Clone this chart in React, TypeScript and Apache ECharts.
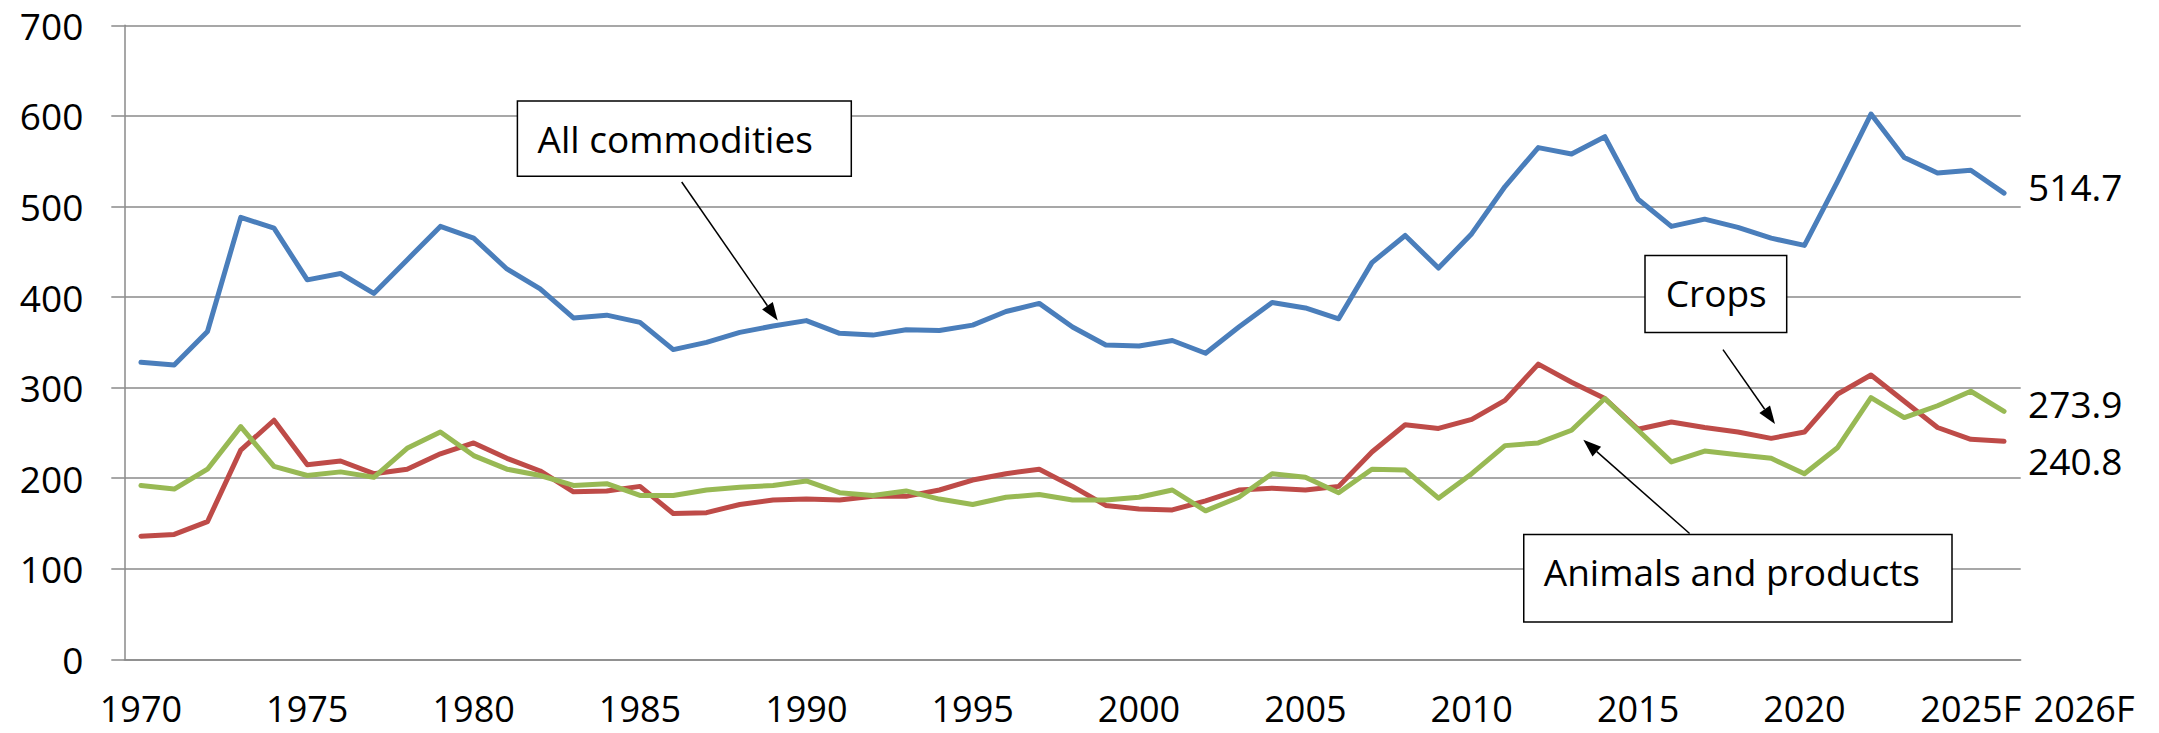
import React, { useEffect, useRef } from 'react';
import * as echarts from 'echarts';

const years: string[] = [
  '1970', '1971', '1972', '1973', '1974', '1975', '1976', '1977', '1978', '1979',
  '1980', '1981', '1982', '1983', '1984', '1985', '1986', '1987', '1988', '1989',
  '1990', '1991', '1992', '1993', '1994', '1995', '1996', '1997', '1998', '1999',
  '2000', '2001', '2002', '2003', '2004', '2005', '2006', '2007', '2008', '2009',
  '2010', '2011', '2012', '2013', '2014', '2015', '2016', '2017', '2018', '2019',
  '2020', '2021', '2022', '2023', '2024', '2025F', '2026F',
];

const allCommodities: number[] = [
  328, 325, 362, 488, 476, 419, 426, 404, 441, 478,
  465, 431, 409, 377, 380, 372, 342, 350, 361, 368,
  374, 360, 358, 364, 363, 369, 384, 393, 367, 347,
  346, 352, 338, 367, 394, 388, 376, 438, 468, 432,
  470, 522, 565, 558, 577, 508, 478, 486, 477, 465,
  457, 528, 602, 554, 537, 540, 514.7,
];

const crops: number[] = [
  136, 138, 152, 231, 264, 215, 219, 205, 210, 227,
  239, 222, 208, 185, 186, 191, 161, 162, 171, 176,
  177, 176, 180, 180, 187, 198, 205, 210, 191, 170,
  166, 165, 175, 187, 189, 187, 191, 229, 259, 255,
  265, 286, 326, 306, 288, 254, 262, 256, 251, 244,
  251, 293, 314, 285, 256, 243, 240.8,
];

const animals: number[] = [
  192, 188, 210, 257, 213, 203, 207, 201, 233, 251,
  225, 210, 203, 192, 194, 181, 181, 187, 190, 192,
  197, 184, 181, 186, 177, 171, 179, 182, 176, 176,
  179, 187, 164, 179, 205, 201, 184, 210, 209, 178,
  205, 236, 239, 253, 288, 253, 218, 230, 226, 222,
  205, 234, 289, 267, 280, 296, 273.9,
];

const yTicks = { min: 0, max: 700, interval: 100 };
const seriesNames = ['All commodities', 'Crops', 'Animals and products'];
const extraAxisLabel = '2026F';

const FONT = 'Open Sans';
const FS = 37;
const XFS = 36;

function arrow(x1: number, y1: number, x2: number, y2: number) {
  const dx = x2 - x1;
  const dy = y2 - y1;
  const len = Math.hypot(dx, dy);
  const ux = dx / len;
  const uy = dy / len;
  const L = 18;
  const W = 6.5;
  const bx = x2 - ux * L;
  const by = y2 - uy * L;
  return [
    {
      type: 'line',
      z: 100,
      shape: { x1, y1, x2: bx, y2: by },
      style: { stroke: '#000', lineWidth: 1.5 },
    },
    {
      type: 'polygon',
      z: 100,
      shape: {
        points: [
          [x2, y2],
          [bx - uy * W, by + ux * W],
          [bx + uy * W, by - ux * W],
        ],
      },
      style: { fill: '#000' },
    },
  ];
}

function box(x: number, y: number, w: number, h: number, text: string, tx: number, ty: number) {
  return [
    {
      type: 'rect',
      z: 100,
      shape: { x, y, width: w, height: h },
      style: { fill: '#fff', stroke: '#000', lineWidth: 1.5 },
    },
    {
      type: 'text',
      z: 101,
      x: tx,
      y: ty,
      style: {
        text,
        font: `${FS}px "${FONT}"`,
        fill: '#000',
        align: 'left',
        verticalAlign: 'middle',
      },
    },
  ];
}

export default function App() {
  const ref = useRef<HTMLDivElement>(null);

  useEffect(() => {
    if (!ref.current) return;
    const chart = echarts.init(ref.current, null, { renderer: 'svg' });

    const lineSeries = (name: string, data: number[], color: string, offsetY: number) => ({
      name,
      type: 'line',
      data,
      symbol: 'none',
      smooth: false,
      lineStyle: { color, width: 5, cap: 'round', join: 'round' },
      itemStyle: { color },
      endLabel: {
        show: true,
        formatter: (p: any) => String(p.value),
        distance: 24,
        offset: [0, offsetY],
        color: '#000',
        fontSize: FS,
        fontFamily: FONT,
      },
    });

    const option: any = {
      animation: false,
      backgroundColor: '#fff',
      grid: {
        left: 124.3,
        right: 138.3,
        top: 25.3,
        bottom: 73.6,
        containLabel: false,
        outerBoundsMode: 'none',
      },
      xAxis: {
        type: 'category',
        data: years,
        boundaryGap: true,
        axisLine: { show: true, lineStyle: { color: '#8a8a8a', width: 1.5 } },
        axisTick: { show: false },
        axisLabel: {
          interval: (i: number) => i % 5 === 0,
          margin: 49,
          verticalAlign: 'middle',
          lineHeight: 34,
          color: '#000',
          fontSize: XFS,
          fontFamily: FONT,
        },
        splitLine: { show: false },
      },
      yAxis: {
        type: 'value',
        min: yTicks.min,
        max: yTicks.max,
        interval: yTicks.interval,
        axisLine: { show: true, lineStyle: { color: '#8a8a8a', width: 1.5 } },
        axisTick: { show: true, length: 13, lineStyle: { color: '#8a8a8a', width: 1.5 } },
        axisLabel: {
          margin: 41,
          color: '#000',
          fontSize: FS,
          fontFamily: FONT,
        },
        splitLine: { show: true, lineStyle: { color: '#8a8a8a', width: 1.5 } },
      },
      series: [
        lineSeries(seriesNames[0], allCommodities, '#4A7EBB', -6.4),
        lineSeries(seriesNames[1], crops, '#BE4B48', 19.4),
        lineSeries(seriesNames[2], animals, '#98B954', -7.3),
      ],
      graphic: [
        ...box(517.4, 100.9, 333.9, 75.4, seriesNames[0], 537.5, 138.4),
        ...arrow(681.7, 182, 777.7, 320.5),
        ...box(1645, 255.4, 141.7, 77.2, seriesNames[1], 1665.8, 292.4),
        ...arrow(1723, 349.6, 1775, 424),
        ...box(1523.75, 534.4, 428.25, 87.5, seriesNames[2], 1543.75, 571.4),
        ...arrow(1689.6, 533.5, 1583.3, 439.7),
        {
          type: 'text',
          z: 101,
          x: 2084,
          y: 708,
          style: {
            text: extraAxisLabel,
            font: `${XFS}px "${FONT}"`,
            lineHeight: 34,
            fill: '#000',
            align: 'center',
            verticalAlign: 'middle',
          },
        },
      ],
    };

    chart.setOption(option);
    return () => chart.dispose();
  }, []);

  return (
    <div
      ref={ref}
      style={{ position: 'absolute', left: 0, top: 0, width: 2159, height: 733 }}
    />
  );
}
